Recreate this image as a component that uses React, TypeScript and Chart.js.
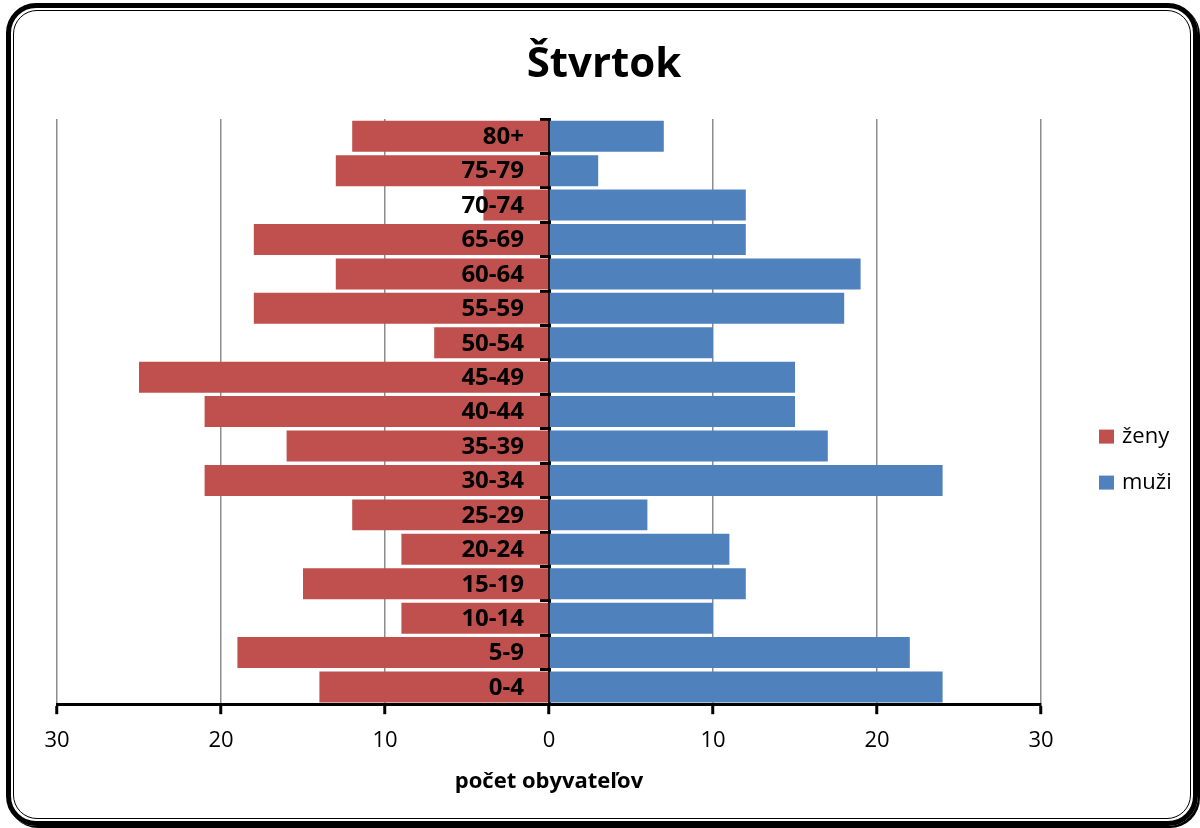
import React, { useEffect, useRef } from "react";
import { Chart, registerables } from "chart.js";

Chart.register(...registerables);

const TITLE = "Štvrtok";
const AXIS_TITLE = "počet obyvateľov";
const AGE_GROUPS = ["0-4", "5-9", "10-14", "15-19", "20-24", "25-29", "30-34", "35-39", "40-44", "45-49", "50-54", "55-59", "60-64", "65-69", "70-74", "75-79", "80+"];
const ZENY = [14, 19, 9, 15, 9, 12, 21, 16, 21, 25, 7, 18, 13, 18, 4, 13, 12];
const MUZI = [24, 22, 10, 12, 11, 6, 24, 17, 15, 15, 10, 18, 19, 12, 12, 3, 7];
const SERIES_NAMES = ["ženy", "muži"];
const COLORS = ["#C0504D", "#4F81BD"];
const X_MIN = -30;
const X_MAX = 30;
const X_STEP = 10;

const FONT = "'Open Sans', 'DejaVu Sans', sans-serif";

const overlayPlugin = {
  id: "overlay",
  afterDatasetsDraw(chart: any) {
    const { ctx } = chart;
    const xs = chart.scales.x;
    const ys = chart.scales.y;
    const x0 = xs.getPixelForValue(0);
    ctx.save();
    ctx.fillStyle = "#000";
    ctx.font = `bold 24px ${FONT}`;
    ctx.textAlign = "right";
    ctx.textBaseline = "middle";
    (chart.data.labels as string[]).forEach((lab, i) => {
      ctx.fillText(lab, x0 - 25, ys.getPixelForValue(i) + 1);
    });
    ctx.restore();
  },
  afterDraw(chart: any) {
    const { ctx, chartArea } = chart;
    ctx.save();
    // title
    ctx.fillStyle = "#000";
    ctx.font = `bold 42px ${FONT}`;
    ctx.textAlign = "center";
    ctx.textBaseline = "alphabetic";
    ctx.fillText(TITLE, chart.width / 2 + 4, 77);
    // legend
    const cy = (chartArea.top + chartArea.bottom) / 2 + 48;
    const spacing = 46;
    const lx = chartArea.right + 58;
    chart.data.datasets.forEach((ds: any, i: number) => {
      const y = cy - spacing / 2 + i * spacing;
      ctx.fillStyle = ds.backgroundColor;
      ctx.fillRect(lx, y - 7, 15, 14);
      ctx.fillStyle = "#000";
      ctx.font = `22px ${FONT}`;
      ctx.textAlign = "left";
      ctx.textBaseline = "middle";
      ctx.fillText(ds.label, lx + 23, y);
    });
    ctx.restore();
  },
};

export default function App() {
  const ref = useRef<HTMLCanvasElement | null>(null);

  useEffect(() => {
    if (!ref.current) return;
    Chart.defaults.font.family = FONT;
    const chart = new Chart(ref.current, {
      type: "bar",
      data: {
        labels: AGE_GROUPS,
        datasets: [
          {
            label: SERIES_NAMES[0],
            data: ZENY.map((v) => -v),
            backgroundColor: COLORS[0],
            borderWidth: 0,
            categoryPercentage: 1,
            barPercentage: 0.9,
          },
          {
            label: SERIES_NAMES[1],
            data: MUZI,
            backgroundColor: COLORS[1],
            borderWidth: 0,
            categoryPercentage: 1,
            barPercentage: 0.9,
          },
        ],
      },
      options: {
        indexAxis: "y",
        animation: false,
        responsive: false,
        maintainAspectRatio: false,
        layout: { padding: { left: 57, right: 159, top: 119, bottom: 33 } },
        plugins: {
          legend: { display: false },
          title: { display: false },
          tooltip: { enabled: false },
        },
        scales: {
          x: {
            type: "linear",
            stacked: true,
            min: X_MIN,
            max: X_MAX,
            ticks: {
              stepSize: X_STEP,
              callback: (v: any) => String(Math.abs(Number(v))),
              font: { size: 22 },
              color: "#000",
              padding: 13,
              maxRotation: 0,
            },
            grid: {
              color: (c: any) => (c.tick && c.tick.value === 0 ? "rgba(0,0,0,0)" : "#8c8c8c"),
              lineWidth: 1.5,
              tickLength: 10,
              tickWidth: 3,
              tickColor: "#000",
            },
            border: { color: "#000", width: 3 },
            title: {
              display: true,
              text: AXIS_TITLE,
              font: { size: 22, weight: "bold" },
              color: "#000",
              padding: { top: 2, bottom: 0 },
            },
          },
          y: {
            type: "category",
            stacked: true,
            reverse: true,
            position: { x: 0 } as any,
            z: 1,
            grid: {
              drawOnChartArea: false,
              offset: true,
              tickLength: 8,
              tickWidth: 3,
              tickColor: "#000",
            },
            border: { color: "#000", width: 3 },
            ticks: { display: false },
          },
        },
      },
      plugins: [overlayPlugin],
    } as any);
    return () => chart.destroy();
  }, []);

  return (
    <div style={{ position: "absolute", left: 0, top: 0, width: 1200, height: 828, background: "#fff", overflow: "hidden" }}>
      <div
        style={{
          position: "absolute",
          left: 6,
          top: 3,
          width: 1192,
          height: 823,
          boxSizing: "border-box",
          border: "5px solid #000",
          borderRadius: 30,
          boxShadow: "2px 2px 0 #000",
        }}
      >
        <div
          style={{
            position: "absolute",
            left: 2,
            top: 2,
            right: 2,
            bottom: 2,
            border: "1.5px solid #000",
            borderRadius: 24,
          }}
        />
      </div>
      <canvas ref={ref} width={1200} height={828} style={{ position: "absolute", left: 0, top: 0, width: 1200, height: 828 }} />
    </div>
  );
}
